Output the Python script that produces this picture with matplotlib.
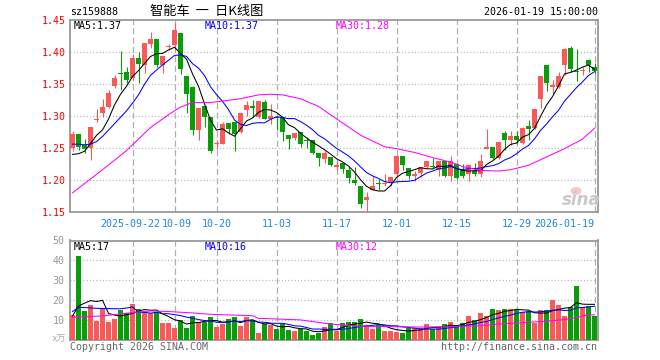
import numpy as np
import pandas as pd
import matplotlib.pyplot as plt
import matplotlib.transforms as mtransforms
from matplotlib.patches import Ellipse

plt.rcParams['font.family'] = ['DejaVu Sans Mono', 'Noto Sans CJK SC']

# 日K数据 (open, high, low, close)
opens = [1.250, 1.2715, 1.254, 1.250, 1.294, 1.305, 1.314, 1.347, 1.367, 1.368,
         1.359, 1.391, 1.380, 1.412, 1.421, 1.379, 1.408, 1.411, 1.429, 1.362,
         1.346, 1.278, 1.315, 1.298, 1.256, 1.257, 1.289, 1.290, 1.275, 1.310,
         1.316, 1.299, 1.322, 1.295, 1.298, 1.298, 1.270, 1.266, 1.275, 1.262,
         1.262, 1.242, 1.233, 1.236, 1.220, 1.226, 1.215, 1.200, 1.191, 1.168,
         1.185, 1.194, 1.194, 1.197, 1.209, 1.237, 1.219, 1.206, 1.211, 1.220,
         1.222, 1.216, 1.230, 1.207, 1.225, 1.216, 1.210, 1.214, 1.210, 1.248,
         1.251, 1.235, 1.273, 1.263, 1.268, 1.258, 1.285, 1.281, 1.326, 1.379,
         1.345, 1.346, 1.379, 1.406, 1.371, 1.370, 1.388, 1.377]
highs = [1.276, 1.2715, 1.264, 1.2825, 1.311, 1.327, 1.341, 1.364, 1.402, 1.376,
         1.397, 1.400, 1.414, 1.431, 1.421, 1.393, 1.412, 1.445, 1.429, 1.362,
         1.347, 1.312, 1.315, 1.298, 1.262, 1.291, 1.289, 1.290, 1.304, 1.323,
         1.325, 1.324, 1.325, 1.319, 1.299, 1.298, 1.270, 1.274, 1.275, 1.267,
         1.262, 1.242, 1.245, 1.236, 1.229, 1.226, 1.220, 1.220, 1.191, 1.181,
         1.207, 1.202, 1.210, 1.205, 1.237, 1.237, 1.219, 1.214, 1.220, 1.229,
         1.235, 1.229, 1.230, 1.237, 1.226, 1.225, 1.224, 1.226, 1.241, 1.279,
         1.251, 1.260, 1.276, 1.276, 1.276, 1.283, 1.293, 1.311, 1.362, 1.379,
         1.356, 1.369, 1.406, 1.410, 1.404, 1.377, 1.389, 1.383]
lows = [1.246, 1.247, 1.242, 1.231, 1.291, 1.299, 1.313, 1.343, 1.341, 1.351,
        1.357, 1.352, 1.367, 1.406, 1.377, 1.367, 1.403, 1.403, 1.366, 1.305,
        1.270, 1.262, 1.283, 1.242, 1.249, 1.256, 1.272, 1.246, 1.274, 1.300,
        1.299, 1.297, 1.295, 1.288, 1.278, 1.261, 1.249, 1.262, 1.252, 1.250,
        1.241, 1.222, 1.226, 1.222, 1.216, 1.211, 1.196, 1.192, 1.157, 1.152,
        1.185, 1.185, 1.191, 1.190, 1.205, 1.215, 1.202, 1.199, 1.205, 1.218,
        1.219, 1.207, 1.204, 1.199, 1.202, 1.203, 1.199, 1.207, 1.204, 1.248,
        1.233, 1.233, 1.247, 1.254, 1.256, 1.256, 1.263, 1.280, 1.312, 1.339,
        1.335, 1.343, 1.364, 1.369, 1.354, 1.364, 1.369, 1.366]
closes = [1.2715, 1.251, 1.249, 1.2825, 1.295, 1.314, 1.336, 1.359, 1.366, 1.357,
          1.391, 1.382, 1.414, 1.421, 1.379, 1.393, 1.409, 1.435, 1.373, 1.334,
          1.278, 1.312, 1.298, 1.245, 1.257, 1.288, 1.280, 1.272, 1.304, 1.317,
          1.312, 1.323, 1.295, 1.300, 1.297, 1.275, 1.264, 1.273, 1.256, 1.261,
          1.242, 1.235, 1.242, 1.223, 1.224, 1.217, 1.203, 1.195, 1.163, 1.173,
          1.190, 1.193, 1.195, 1.205, 1.237, 1.223, 1.206, 1.210, 1.220, 1.229,
          1.221, 1.229, 1.206, 1.230, 1.203, 1.207, 1.224, 1.209, 1.229, 1.252,
          1.235, 1.260, 1.263, 1.268, 1.263, 1.281, 1.280, 1.311, 1.362, 1.351,
          1.348, 1.363, 1.405, 1.374, 1.369, 1.371, 1.379, 1.371]
# 成交量 (万)
volumes = [12.5, 42.3, 14.6, 17.6, 9.7, 15.6, 9.2, 10.6, 15.1, 13.4,
           18.1, 15.6, 14.3, 13.4, 13.9, 8.7, 8.7, 6.2, 10.1, 6.2,
           12.1, 9.2, 9.2, 11.7, 6.7, 7.9, 10.4, 11.7, 7.0, 11.7,
           10.1, 3.7, 8.1, 7.6, 5.5, 8.1, 5.0, 4.5, 5.4, 4.7,
           2.5, 3.7, 6.4, 8.4, 4.7, 8.4, 9.2, 9.2, 10.6, 7.6,
           5.5, 7.6, 4.5, 4.5, 3.9, 3.4, 6.2, 5.9, 5.9, 7.9,
           5.5, 6.7, 7.9, 9.2, 6.7, 8.4, 12.1, 10.1, 13.8, 12.1,
           15.6, 15.1, 15.6, 15.6, 15.1, 14.3, 14.6, 8.7, 15.1, 15.1,
           20.1, 17.6, 12.1, 16.8, 27.2, 16.4, 17.1, 12.1]

# 均线开头几天 (窗口之前的数据看不到, 直接读线)
ma5_head = [1.240, 1.241, 1.245, 1.257]
ma10_head = [1.256, 1.256, 1.255, 1.256, 1.260, 1.268, 1.278, 1.288, 1.298]
ma30_x = [0, 5, 9, 13, 16, 18, 20, 23, 28, 31, 33, 35, 38, 41, 43, 48, 52, 54,
          57, 60, 63, 65, 68, 71, 73, 76, 79, 82, 85, 87]
ma30_y = [1.180, 1.216, 1.246, 1.282, 1.302, 1.314, 1.321, 1.321, 1.327, 1.333,
          1.334, 1.333, 1.327, 1.315, 1.302, 1.270, 1.252, 1.249, 1.243, 1.235,
          1.228, 1.221, 1.215, 1.214, 1.216, 1.223, 1.236, 1.249, 1.264, 1.281]
vma5_head = [12.1, 17.1, 18.5, 19.8]
vma10_head = [14.3, 16.4, 16.3, 16.1, 15.9, 15.8, 15.8, 15.7, 15.7]
vma30_x = [0, 5, 10, 13, 16, 20, 23, 30, 31, 38, 43, 48, 53, 58, 63, 68, 71,
           75, 79, 82, 84, 85, 87]
vma30_y = [11.4, 12.1, 13.8, 14.6, 14.3, 13.6, 12.9, 12.2, 10.9, 10.1, 8.0, 6.9,
           6.7, 6.5, 6.7, 7.2, 8.0, 8.7, 9.4, 10.3, 11.2, 12.2, 12.7]

tick_idx = [10, 17, 24, 34, 44, 54, 64, 74, 87]
tick_labels = ['2025-09-22', '10-09', '10-20', '11-03', '11-17', '12-01',
               '12-15', '12-29', '2026-01-19']
price_ticks = [1.15, 1.20, 1.25, 1.30, 1.35, 1.40, 1.45]
vol_ticks = [10, 20, 30, 40, 50]

RED = '#fa5959'
GREEN = '#099e09'
GRID = '#b0b0b0'
FS = 7.2

o = np.array(opens)
h = np.array(highs)
l = np.array(lows)
c = np.array(closes)
v = np.array(volumes)
x = np.arange(len(c))

ma5 = pd.Series(c).rolling(5).mean().values
ma5[:4] = ma5_head
ma10 = pd.Series(c).rolling(10).mean().values
ma10[:9] = ma10_head
vma5 = pd.Series(v).rolling(5).mean().values
vma5[:4] = vma5_head
vma10 = pd.Series(v).rolling(10).mean().values
vma10[:9] = vma10_head

W, H = 660, 360
fig = plt.figure(figsize=(W / 100, H / 100), dpi=100)
ax = fig.add_axes([70 / W, (H - 212) / H, 528 / W, 192 / H])
axv = fig.add_axes([70 / W, (H - 340) / H, 528 / W, 99.5 / H])

up = c >= o
colors = np.where(up, RED, GREEN)

# K线
ax.vlines(x, l, h, color=colors, lw=0.8, zorder=3)
ax.bar(x, np.maximum(np.abs(c - o), 0.0016), bottom=np.minimum(o, c),
       width=0.8, color=colors, lw=0, zorder=3)
ax.plot(x, ma5, color='black', lw=0.75, zorder=4)
ax.plot(x, ma10, color='#0000ff', lw=0.75, zorder=4)
ax.plot(ma30_x, ma30_y, color='#ff00ff', lw=0.75, zorder=4)

# 成交量
axv.bar(x, v, width=0.8, color=colors, lw=0, zorder=3)
axv.plot(x, vma5, color='black', lw=0.75, zorder=4)
axv.plot(x, vma10, color='#0000ff', lw=0.75, zorder=4)
axv.plot(vma30_x, vma30_y, color='#ff00ff', lw=0.75, zorder=4)

for a in (ax, axv):
    a.set_xlim(-0.42, 87.58)
    for s in a.spines.values():
        s.set_color('#999999')
        s.set_linewidth(1.3)
    for t in tick_idx:
        a.axvline(t, color=GRID, ls=(0, (5, 2.5)), lw=0.9, zorder=1)

ax.set_ylim(1.15, 1.45)
for p in price_ticks[1:-1]:
    ax.axhline(p, color=GRID, ls=(0, (0.8, 1.8)), lw=0.9, zorder=1)
ax.set_yticks(price_ticks, labels=['%.2f' % p for p in price_ticks])
ax.tick_params(axis='y', length=0, pad=3, labelcolor='#ff0000', labelsize=FS)
ax.set_xticks(tick_idx, labels=tick_labels)
ax.tick_params(axis='x', length=0, pad=5, labelcolor='#1a88d6', labelsize=FS)
xl = ax.get_xticklabels()
xl[-1].set_ha('right')
# 前两个日期挨得很近, 稍微错开
xl[0].set_transform(xl[0].get_transform() + mtransforms.ScaledTranslation(-2 / 100, 0, fig.dpi_scale_trans))
xl[1].set_transform(xl[1].get_transform() + mtransforms.ScaledTranslation(2 / 100, 0, fig.dpi_scale_trans))

axv.set_ylim(0, 50)
for p in vol_ticks[:-1]:
    axv.axhline(p, color=GRID, ls=(0, (0.8, 1.8)), lw=0.9, zorder=1)
axv.set_yticks(vol_ticks, labels=[str(t) for t in vol_ticks])
axv.tick_params(axis='y', length=0, pad=4, labelcolor='#999999', labelsize=FS)
axv.set_xticks([])

def txt(px, py, s, **kw):
    fig.text(px / W, 1 - py / H, s, va='center', **kw)

# 标题
txt(70, 12, 'sz159888', fontsize=FS)
txt(207, 12, '智能车  一  日K线图', fontsize=9.5, ha='center',
    family=['Noto Sans CJK SC', 'DejaVu Sans'])
txt(598, 12, '2026-01-19 15:00:00', fontsize=FS, ha='right')

# 均线数值
txt(74, 26, 'MA5:%.2f' % ma5[-1], fontsize=FS, color='black')
txt(205, 26, 'MA10:%.2f' % ma10[-1], fontsize=FS, color='#0000ff')
txt(336, 26, 'MA30:%.2f' % ma30_y[-1], fontsize=FS, color='#ff00ff')
txt(74, 247, 'MA5:17', fontsize=FS, color='black')
txt(205, 247, 'MA10:16', fontsize=FS, color='#0000ff')
txt(336, 247, 'MA30:12', fontsize=FS, color='#ff00ff')

txt(66, 339, 'x万', fontsize=6.5, color='#aaaaaa', ha='right',
    family=['DejaVu Sans Mono', 'Noto Sans CJK SC'])
txt(70, 347, 'Copyright 2026 SINA.COM', fontsize=FS, color='#666666')
txt(597, 347, 'http://finance.sina.com.cn', fontsize=FS, color='#666666', ha='right')

# sina 水印 (小眼睛 + 文字)
fig.patches.append(Ellipse((576 / W, 1 - 191 / H), 11 / W, 8 / H, transform=fig.transFigure,
                           facecolor='#f6c9c9', edgecolor='none', zorder=0.5))
txt(581, 200, 'sina', fontsize=12, color='#c9c9c9', ha='center',
    family='DejaVu Sans', fontweight='bold', fontstyle='italic')

fig.savefig('out.png', dpi=100)
